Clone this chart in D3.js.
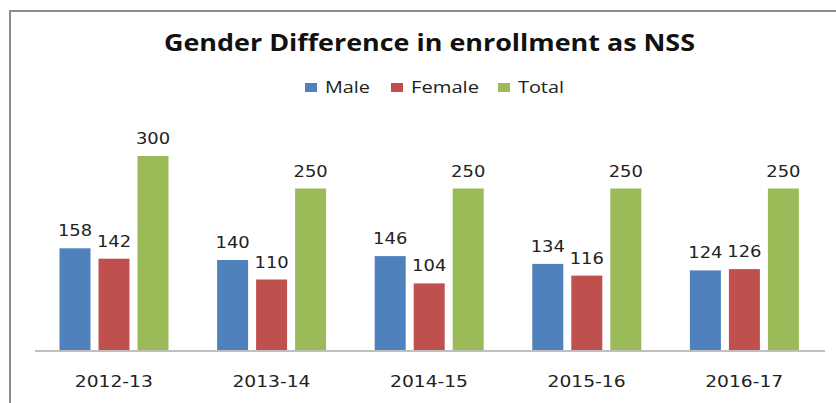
<!DOCTYPE html>
<html>
<head>
<meta charset="utf-8">
<script src="https://cdn.jsdelivr.net/npm/d3@7"></script>
<style>
  body { margin: 0; background: #fff; }
  svg { display: block; }
</style>
</head>
<body>
<svg id="chart" width="836" height="403"></svg>
<script>
// chart data
const years = ["2012-13", "2013-14", "2014-15", "2015-16", "2016-17"];
const seriesNames = ["Male", "Female", "Total"];
const maleValues = [158, 140, 146, 134, 124];
const femaleValues = [142, 110, 104, 116, 126];
const totalValues = [300, 250, 250, 250, 250];
const seriesColors = ["#4f81bd", "#c0504d", "#9bbb59"];

const svg = d3.select('#chart');

// frame (only left and top edges show in the crop)
svg.append('rect')
  .attr('x', 10).attr('y', 11)
  .attr('width', 900).attr('height', 500)
  .attr('fill', 'none')
  .attr('stroke', '#8c8c8c')
  .attr('stroke-width', 2);

// title
svg.append('text')
  .attr('x', 429.5).attr('y', 50.5)
  .attr('text-anchor', 'middle')
  .attr('font-family', 'Open Sans, sans-serif')
  .attr('font-weight', 'bold')
  .attr('font-size', '23px')
  .attr('fill', '#111')
  .attr('textLength', 531)
  .attr('lengthAdjust', 'spacingAndGlyphs')
  .text('Gender Difference in enrollment as NSS');

// legend
const legendX = [305, 391, 498];
const legendW = [45, 68, 46];
const legend = svg.append('g');
seriesNames.forEach((name, i) => {
  legend.append('rect')
    .attr('x', legendX[i]).attr('y', 83)
    .attr('width', 12).attr('height', 9)
    .attr('fill', seriesColors[i]);
  legend.append('text')
    .attr('x', legendX[i] + 20).attr('y', 92.5)
    .attr('font-family', 'Open Sans, sans-serif')
    .attr('font-size', '16px')
    .attr('fill', '#222')
    .attr('textLength', legendW[i])
    .attr('lengthAdjust', 'spacingAndGlyphs')
    .text(name);
});

// scales
const x0 = d3.scaleBand().domain(years).range([35, 823]);
const x1 = d3.scaleBand().domain(seriesNames).range([24.5, 133.5]).paddingInner(0.205);
const y = d3.scaleLinear().domain([0, 350]).range([351, 123.5]);

const rows = years.map((yr, i) => ({
  year: yr,
  values: [maleValues[i], femaleValues[i], totalValues[i]]
}));

const groups = svg.append('g').selectAll('g')
  .data(rows)
  .join('g')
  .attr('transform', d => `translate(${x0(d.year)},0)`);

groups.selectAll('rect')
  .data(d => d.values.map((v, i) => ({ name: seriesNames[i], value: v, color: seriesColors[i] })))
  .join('rect')
  .attr('x', d => x1(d.name))
  .attr('y', d => y(d.value))
  .attr('width', x1.bandwidth())
  .attr('height', d => y(0) - y(d.value))
  .attr('fill', d => d.color);

// value labels
groups.selectAll('text')
  .data(d => d.values.map((v, i) => ({ name: seriesNames[i], value: v })))
  .join('text')
  .attr('x', d => x1(d.name) + x1.bandwidth() / 2)
  .attr('y', d => y(d.value) - 12)
  .attr('text-anchor', 'middle')
  .attr('font-family', 'DejaVu Sans, sans-serif')
  .attr('font-size', '16px')
  .attr('fill', '#222')
  .attr('textLength', d => String(d.value).length * 11.4)
  .attr('lengthAdjust', 'spacingAndGlyphs')
  .text(d => d.value);

// baseline
svg.append('line')
  .attr('x1', 35).attr('x2', 825)
  .attr('y1', y(0)).attr('y2', y(0))
  .attr('stroke', '#bfbfbf')
  .attr('stroke-width', 2);

// x axis labels
let xAxis = d3.axisBottom(x0).tickSize(0).tickPadding(0);
const gx = svg.append('g')
  .attr('transform', `translate(0,${y(0)})`)
  .call(xAxis);
gx.select('.domain').remove();
gx.selectAll('text')
  .attr('y', 36)
  .attr('dy', 0)
  .attr('font-family', 'DejaVu Sans, sans-serif')
  .attr('font-size', '16px')
  .attr('fill', '#222')
  .attr('textLength', 78)
  .attr('lengthAdjust', 'spacingAndGlyphs');
</script>
</body>
</html>
